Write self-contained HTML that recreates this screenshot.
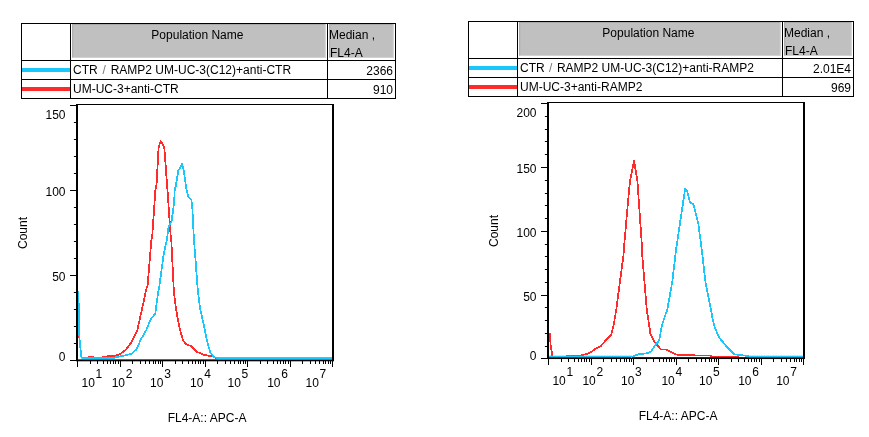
<!DOCTYPE html>
<html><head><meta charset="utf-8"><title>Histograms</title>
<style>
html,body{margin:0;padding:0;background:#fff;}
svg{display:block;}
text{font-family:"Liberation Sans", Arial, sans-serif;font-size:12px;fill:#000;}
</style></head>
<body>
<svg width="869" height="437" viewBox="0 0 869 437">
<rect width="869" height="437" fill="#fff"/>
<rect x="72.2" y="24" width="253.4" height="33.8" fill="#c0c0c0"/>
<rect x="72.2" y="24" width="253.4" height="1" fill="#a9a9a9"/>
<rect x="72.2" y="24" width="1" height="33.8" fill="#a9a9a9"/>
<rect x="72.2" y="57.0" width="253.4" height="0.8" fill="#d4d4d4"/>
<rect x="324.8" y="24" width="0.8" height="33.8" fill="#d4d4d4"/>
<rect x="329.2" y="24" width="64.4" height="33.8" fill="#c0c0c0"/>
<rect x="329.2" y="24" width="64.4" height="1" fill="#a9a9a9"/>
<rect x="329.2" y="24" width="1" height="33.8" fill="#a9a9a9"/>
<rect x="329.2" y="57.0" width="64.4" height="0.8" fill="#d4d4d4"/>
<rect x="392.8" y="24" width="0.8" height="33.8" fill="#d4d4d4"/>
<rect x="21" y="23" width="375" height="1" fill="#000"/>
<rect x="21" y="60" width="375" height="1" fill="#000"/>
<rect x="21" y="79" width="375" height="1" fill="#000"/>
<rect x="21" y="98" width="375" height="1" fill="#000"/>
<rect x="21" y="23" width="1" height="76" fill="#000"/>
<rect x="70" y="23" width="1" height="76" fill="#000"/>
<rect x="327" y="23" width="1" height="76" fill="#000"/>
<rect x="395" y="23" width="1" height="76" fill="#000"/>
<rect x="22" y="68" width="48" height="4" fill="#19C7FA"/>
<rect x="22" y="87" width="48" height="4" fill="#FF2B2B"/>
<text x="197.4" y="39" text-anchor="middle">Population Name</text>
<text x="329" y="39">Median ,</text>
<text x="330" y="57.2">FL4-A</text>
<text x="73" y="74">CTR<tspan dx="1.5" fill="#777"> /</tspan><tspan dx="1.5"> </tspan>RAMP2 UM-UC-3(C12)+anti-CTR</text>
<text x="73" y="93">UM-UC-3+anti-CTR</text>
<text x="393" y="75" text-anchor="end">2366</text>
<text x="393" y="94" text-anchor="end">910</text>
<rect x="519.2" y="22" width="261.4" height="33.8" fill="#c0c0c0"/>
<rect x="519.2" y="22" width="261.4" height="1" fill="#a9a9a9"/>
<rect x="519.2" y="22" width="1" height="33.8" fill="#a9a9a9"/>
<rect x="519.2" y="55.0" width="261.4" height="0.8" fill="#d4d4d4"/>
<rect x="779.8" y="22" width="0.8" height="33.8" fill="#d4d4d4"/>
<rect x="784.2" y="22" width="67.4" height="33.8" fill="#c0c0c0"/>
<rect x="784.2" y="22" width="67.4" height="1" fill="#a9a9a9"/>
<rect x="784.2" y="22" width="1" height="33.8" fill="#a9a9a9"/>
<rect x="784.2" y="55.0" width="67.4" height="0.8" fill="#d4d4d4"/>
<rect x="850.8" y="22" width="0.8" height="33.8" fill="#d4d4d4"/>
<rect x="468" y="21" width="386" height="1" fill="#000"/>
<rect x="468" y="58" width="386" height="1" fill="#000"/>
<rect x="468" y="77" width="386" height="1" fill="#000"/>
<rect x="468" y="96" width="386" height="1" fill="#000"/>
<rect x="468" y="21" width="1" height="76" fill="#000"/>
<rect x="517" y="21" width="1" height="76" fill="#000"/>
<rect x="782" y="21" width="1" height="76" fill="#000"/>
<rect x="853" y="21" width="1" height="76" fill="#000"/>
<rect x="469" y="66" width="48" height="4" fill="#19C7FA"/>
<rect x="469" y="85" width="48" height="4" fill="#FF2B2B"/>
<text x="648.4" y="37" text-anchor="middle">Population Name</text>
<text x="784" y="37">Median ,</text>
<text x="785" y="55.2">FL4-A</text>
<text x="520" y="72">CTR<tspan dx="1.1" fill="#777"> /</tspan><tspan dx="1.1"> </tspan>RAMP2 UM-UC-3(C12)+anti-RAMP2</text>
<text x="520" y="91">UM-UC-3+anti-RAMP2</text>
<text x="851" y="73" text-anchor="end">2.01E4</text>
<text x="851" y="92" text-anchor="end">969</text>
<rect x="76" y="104" width="2" height="257" fill="#000"/>
<rect x="332" y="104" width="2" height="257" fill="#000"/>
<rect x="76" y="104" width="258" height="1" fill="#000"/>
<rect x="76" y="359.4" width="258" height="1.9" fill="#000"/>
<polyline points="78.4,325.0 78.5,336.0 79.4,338.0 80.0,345.0 81.5,357.5 88.0,357.6 89.0,357.0 93.0,357.0 94.0,357.6 102.0,357.6 103.0,356.5 112.0,356.2 119.6,354.5 125.9,349.7 132.0,341.4 132.2,340.3 137.4,329.9 140.7,314.9 144.1,300.0 146.0,290.0 147.6,285.0 149.7,260.3 151.4,240.0 152.3,235.0 155.4,190.0 156.5,185.0 158.6,147.7 160.5,141.3 162.5,143.5 164.3,147.7 167.1,185.0 167.5,190.0 170.6,235.0 171.3,240.0 173.8,290.0 174.8,300.0 177.0,314.9 180.0,329.9 183.0,340.3 186.0,344.1 189.8,345.6 191.0,346.2 196.6,351.7 204.0,355.0 213.0,356.3 216.0,357.8" fill="none" stroke="#FF2B2B" stroke-width="1.75" stroke-linejoin="round" shape-rendering="crispEdges"/>
<polyline points="78.5,290.6 79.0,330.0 80.0,345.0 81.5,357.5 100.0,357.8 114.5,357.5 125.0,355.5 131.5,353.8 135.9,350.0 138.3,345.5 140.4,340.3 146.4,329.9 150.1,320.2 155.3,313.4 157.1,300.0 158.6,290.0 159.5,285.0 163.7,254.0 166.8,240.0 167.5,235.0 168.7,226.1 171.6,221.7 174.2,201.5 174.7,190.0 176.0,185.0 178.2,171.0 180.0,168.0 182.0,163.5 184.0,172.0 185.8,185.0 186.5,190.0 188.4,197.0 191.5,200.2 192.4,209.0 193.7,235.0 194.0,240.0 197.8,290.0 199.9,307.4 203.2,322.4 207.6,343.4 210.4,352.6 214.0,357.2 218.5,358.2" fill="none" stroke="#19C7FA" stroke-width="1.75" stroke-linejoin="round" shape-rendering="crispEdges"/>
<rect x="217.5" y="357.1" width="114.5" height="2.2" fill="#19C7FA"/>
<rect x="81.5" y="357.05" width="33.5" height="1.9" fill="#19C7FA"/>
<rect x="70" y="360" width="6" height="1" fill="#000"/>
<rect x="73.9" y="343" width="2.1" height="1" fill="#000"/>
<rect x="73.9" y="326" width="2.1" height="1" fill="#000"/>
<rect x="73.9" y="309" width="2.1" height="1" fill="#000"/>
<rect x="73.9" y="292" width="2.1" height="1" fill="#000"/>
<rect x="70" y="275" width="6" height="1" fill="#000"/>
<rect x="73.9" y="258" width="2.1" height="1" fill="#000"/>
<rect x="73.9" y="241" width="2.1" height="1" fill="#000"/>
<rect x="73.9" y="224" width="2.1" height="1" fill="#000"/>
<rect x="73.9" y="207" width="2.1" height="1" fill="#000"/>
<rect x="70" y="190" width="6" height="1" fill="#000"/>
<rect x="73.9" y="173" width="2.1" height="1" fill="#000"/>
<rect x="73.9" y="156" width="2.1" height="1" fill="#000"/>
<rect x="73.9" y="139" width="2.1" height="1" fill="#000"/>
<rect x="73.9" y="122" width="2.1" height="1" fill="#000"/>
<rect x="70" y="105" width="6" height="1" fill="#000"/>
<text x="65.5" y="119" text-anchor="end">150</text>
<text x="65.5" y="195.5" text-anchor="end">100</text>
<text x="65.5" y="281" text-anchor="end">50</text>
<text x="65.5" y="361.3" text-anchor="end">0</text>
<rect x="77" y="361" width="1" height="6" fill="#000"/>
<rect x="90" y="361" width="1" height="3" fill="#000"/>
<rect x="97" y="361" width="1" height="3" fill="#000"/>
<rect x="103" y="361" width="1" height="3" fill="#000"/>
<rect x="107" y="361" width="1" height="3" fill="#000"/>
<rect x="110" y="361" width="1" height="3" fill="#000"/>
<rect x="113" y="361" width="1" height="3" fill="#000"/>
<rect x="115" y="361" width="1" height="3" fill="#000"/>
<rect x="118" y="361" width="1" height="3" fill="#000"/>
<rect x="120" y="361" width="1" height="6" fill="#000"/>
<rect x="132" y="361" width="1" height="3" fill="#000"/>
<rect x="140" y="361" width="1" height="3" fill="#000"/>
<rect x="145" y="361" width="1" height="3" fill="#000"/>
<rect x="149" y="361" width="1" height="3" fill="#000"/>
<rect x="153" y="361" width="1" height="3" fill="#000"/>
<rect x="155" y="361" width="1" height="3" fill="#000"/>
<rect x="158" y="361" width="1" height="3" fill="#000"/>
<rect x="160" y="361" width="1" height="3" fill="#000"/>
<rect x="162" y="361" width="1" height="6" fill="#000"/>
<rect x="175" y="361" width="1" height="3" fill="#000"/>
<rect x="182" y="361" width="1" height="3" fill="#000"/>
<rect x="188" y="361" width="1" height="3" fill="#000"/>
<rect x="192" y="361" width="1" height="3" fill="#000"/>
<rect x="195" y="361" width="1" height="3" fill="#000"/>
<rect x="198" y="361" width="1" height="3" fill="#000"/>
<rect x="200" y="361" width="1" height="3" fill="#000"/>
<rect x="203" y="361" width="1" height="3" fill="#000"/>
<rect x="205" y="361" width="1" height="6" fill="#000"/>
<rect x="217" y="361" width="1" height="3" fill="#000"/>
<rect x="225" y="361" width="1" height="3" fill="#000"/>
<rect x="230" y="361" width="1" height="3" fill="#000"/>
<rect x="234" y="361" width="1" height="3" fill="#000"/>
<rect x="238" y="361" width="1" height="3" fill="#000"/>
<rect x="240" y="361" width="1" height="3" fill="#000"/>
<rect x="243" y="361" width="1" height="3" fill="#000"/>
<rect x="245" y="361" width="1" height="3" fill="#000"/>
<rect x="247" y="361" width="1" height="6" fill="#000"/>
<rect x="260" y="361" width="1" height="3" fill="#000"/>
<rect x="267" y="361" width="1" height="3" fill="#000"/>
<rect x="273" y="361" width="1" height="3" fill="#000"/>
<rect x="277" y="361" width="1" height="3" fill="#000"/>
<rect x="280" y="361" width="1" height="3" fill="#000"/>
<rect x="283" y="361" width="1" height="3" fill="#000"/>
<rect x="285" y="361" width="1" height="3" fill="#000"/>
<rect x="288" y="361" width="1" height="3" fill="#000"/>
<rect x="290" y="361" width="1" height="6" fill="#000"/>
<rect x="302" y="361" width="1" height="3" fill="#000"/>
<rect x="310" y="361" width="1" height="3" fill="#000"/>
<rect x="315" y="361" width="1" height="3" fill="#000"/>
<rect x="319" y="361" width="1" height="3" fill="#000"/>
<rect x="323" y="361" width="1" height="3" fill="#000"/>
<rect x="325" y="361" width="1" height="3" fill="#000"/>
<rect x="328" y="361" width="1" height="3" fill="#000"/>
<rect x="330" y="361" width="1" height="3" fill="#000"/>
<rect x="332" y="361" width="1" height="6" fill="#000"/>
<text x="81.5" y="386.7">10</text>
<text x="95.6" y="378" font-size="9.7">1</text>
<text x="111.7" y="386.7">10</text>
<text x="125.8" y="378" font-size="9.7">2</text>
<text x="150.1" y="386.7">10</text>
<text x="164.2" y="378" font-size="9.7">3</text>
<text x="190.1" y="386.7">10</text>
<text x="204.2" y="378" font-size="9.7">4</text>
<text x="227.5" y="386.7">10</text>
<text x="241.6" y="378" font-size="9.7">5</text>
<text x="267.2" y="386.7">10</text>
<text x="281.3" y="378" font-size="9.7">6</text>
<text x="305.5" y="386.7">10</text>
<text x="319.6" y="378" font-size="9.7">7</text>
<text x="167.7" y="422">FL4-A:: APC-A</text>
<text transform="translate(27.3,249) rotate(-90)">Count</text>
<rect x="547" y="102" width="2" height="257" fill="#000"/>
<rect x="803" y="102" width="2" height="257" fill="#000"/>
<rect x="547" y="102" width="258" height="1" fill="#000"/>
<rect x="547" y="357.15" width="258" height="1.9" fill="#000"/>
<polyline points="549.8,333.4 550.6,345.0 552.4,355.8 553.0,356.4 566.0,356.4 567.0,355.6 580.0,355.5 584.5,354.6 589.5,353.0 593.5,350.2 595.5,348.7 600.6,346.3 606.2,339.8 611.0,335.0 613.5,326.1 614.5,320.0 616.2,310.0 623.5,255.0 623.8,250.0 627.7,205.0 628.2,200.0 629.9,181.6 634.0,160.8 637.5,181.6 638.7,200.0 639.1,205.0 642.2,250.0 642.2,255.0 646.8,310.0 648.1,318.0 650.5,334.2 654.6,342.2 661.0,349.5 665.8,349.5 672.3,352.7 677.1,354.8 694.2,354.8 695.0,355.6 710.3,355.6 712.0,356.4 738.5,356.4" fill="none" stroke="#FF2B2B" stroke-width="1.75" stroke-linejoin="round" shape-rendering="crispEdges"/>
<polyline points="631.0,356.7 632.8,356.4 638.4,354.3 648.1,353.2 651.3,351.1 656.2,343.8 659.1,340.6 661.8,326.1 663.6,320.0 667.3,309.6 672.2,282.2 676.0,250.0 682.7,205.0 683.4,200.0 685.2,188.6 687.0,190.5 690.0,202.5 693.2,203.8 698.2,222.8 701.8,250.0 705.5,282.2 711.1,310.0 712.8,320.0 714.8,327.7 719.1,337.4 725.6,345.4 734.4,354.3 745.0,355.6 750.0,356.6" fill="none" stroke="#19C7FA" stroke-width="1.75" stroke-linejoin="round" shape-rendering="crispEdges"/>
<rect x="549" y="355.7" width="83" height="1.5" fill="#19C7FA"/>
<rect x="749" y="355.7" width="54" height="1.6" fill="#19C7FA"/>
<rect x="541" y="358" width="6" height="1" fill="#000"/>
<rect x="544.9" y="346" width="2.1" height="1" fill="#000"/>
<rect x="544.9" y="333" width="2.1" height="1" fill="#000"/>
<rect x="544.9" y="320" width="2.1" height="1" fill="#000"/>
<rect x="544.9" y="307" width="2.1" height="1" fill="#000"/>
<rect x="541" y="295" width="6" height="1" fill="#000"/>
<rect x="544.9" y="282" width="2.1" height="1" fill="#000"/>
<rect x="544.9" y="269" width="2.1" height="1" fill="#000"/>
<rect x="544.9" y="256" width="2.1" height="1" fill="#000"/>
<rect x="544.9" y="244" width="2.1" height="1" fill="#000"/>
<rect x="541" y="231" width="6" height="1" fill="#000"/>
<rect x="544.9" y="218" width="2.1" height="1" fill="#000"/>
<rect x="544.9" y="205" width="2.1" height="1" fill="#000"/>
<rect x="544.9" y="193" width="2.1" height="1" fill="#000"/>
<rect x="544.9" y="180" width="2.1" height="1" fill="#000"/>
<rect x="541" y="167" width="6" height="1" fill="#000"/>
<rect x="544.9" y="154" width="2.1" height="1" fill="#000"/>
<rect x="544.9" y="141" width="2.1" height="1" fill="#000"/>
<rect x="544.9" y="129" width="2.1" height="1" fill="#000"/>
<rect x="544.9" y="116" width="2.1" height="1" fill="#000"/>
<rect x="541" y="103" width="6" height="1" fill="#000"/>
<text x="536.5" y="117" text-anchor="end">200</text>
<text x="536.5" y="173.1" text-anchor="end">150</text>
<text x="536.5" y="237.1" text-anchor="end">100</text>
<text x="536.5" y="301.3" text-anchor="end">50</text>
<text x="536.5" y="359.8" text-anchor="end">0</text>
<rect x="548" y="359" width="1" height="6" fill="#000"/>
<rect x="561" y="359" width="1" height="3" fill="#000"/>
<rect x="568" y="359" width="1" height="3" fill="#000"/>
<rect x="574" y="359" width="1" height="3" fill="#000"/>
<rect x="578" y="359" width="1" height="3" fill="#000"/>
<rect x="581" y="359" width="1" height="3" fill="#000"/>
<rect x="584" y="359" width="1" height="3" fill="#000"/>
<rect x="586" y="359" width="1" height="3" fill="#000"/>
<rect x="589" y="359" width="1" height="3" fill="#000"/>
<rect x="591" y="359" width="1" height="6" fill="#000"/>
<rect x="603" y="359" width="1" height="3" fill="#000"/>
<rect x="611" y="359" width="1" height="3" fill="#000"/>
<rect x="616" y="359" width="1" height="3" fill="#000"/>
<rect x="620" y="359" width="1" height="3" fill="#000"/>
<rect x="624" y="359" width="1" height="3" fill="#000"/>
<rect x="626" y="359" width="1" height="3" fill="#000"/>
<rect x="629" y="359" width="1" height="3" fill="#000"/>
<rect x="631" y="359" width="1" height="3" fill="#000"/>
<rect x="633" y="359" width="1" height="6" fill="#000"/>
<rect x="646" y="359" width="1" height="3" fill="#000"/>
<rect x="653" y="359" width="1" height="3" fill="#000"/>
<rect x="659" y="359" width="1" height="3" fill="#000"/>
<rect x="663" y="359" width="1" height="3" fill="#000"/>
<rect x="666" y="359" width="1" height="3" fill="#000"/>
<rect x="669" y="359" width="1" height="3" fill="#000"/>
<rect x="671" y="359" width="1" height="3" fill="#000"/>
<rect x="674" y="359" width="1" height="3" fill="#000"/>
<rect x="676" y="359" width="1" height="6" fill="#000"/>
<rect x="688" y="359" width="1" height="3" fill="#000"/>
<rect x="696" y="359" width="1" height="3" fill="#000"/>
<rect x="701" y="359" width="1" height="3" fill="#000"/>
<rect x="705" y="359" width="1" height="3" fill="#000"/>
<rect x="709" y="359" width="1" height="3" fill="#000"/>
<rect x="711" y="359" width="1" height="3" fill="#000"/>
<rect x="714" y="359" width="1" height="3" fill="#000"/>
<rect x="716" y="359" width="1" height="3" fill="#000"/>
<rect x="718" y="359" width="1" height="6" fill="#000"/>
<rect x="731" y="359" width="1" height="3" fill="#000"/>
<rect x="738" y="359" width="1" height="3" fill="#000"/>
<rect x="744" y="359" width="1" height="3" fill="#000"/>
<rect x="748" y="359" width="1" height="3" fill="#000"/>
<rect x="751" y="359" width="1" height="3" fill="#000"/>
<rect x="754" y="359" width="1" height="3" fill="#000"/>
<rect x="756" y="359" width="1" height="3" fill="#000"/>
<rect x="759" y="359" width="1" height="3" fill="#000"/>
<rect x="761" y="359" width="1" height="6" fill="#000"/>
<rect x="773" y="359" width="1" height="3" fill="#000"/>
<rect x="781" y="359" width="1" height="3" fill="#000"/>
<rect x="786" y="359" width="1" height="3" fill="#000"/>
<rect x="790" y="359" width="1" height="3" fill="#000"/>
<rect x="794" y="359" width="1" height="3" fill="#000"/>
<rect x="796" y="359" width="1" height="3" fill="#000"/>
<rect x="799" y="359" width="1" height="3" fill="#000"/>
<rect x="801" y="359" width="1" height="3" fill="#000"/>
<rect x="803" y="359" width="1" height="6" fill="#000"/>
<text x="552.4" y="384.7">10</text>
<text x="566.5" y="376" font-size="9.7">1</text>
<text x="582.4" y="384.7">10</text>
<text x="596.5" y="376" font-size="9.7">2</text>
<text x="621" y="384.7">10</text>
<text x="635.1" y="376" font-size="9.7">3</text>
<text x="661.4" y="384.7">10</text>
<text x="675.5" y="376" font-size="9.7">4</text>
<text x="699" y="384.7">10</text>
<text x="713.1" y="376" font-size="9.7">5</text>
<text x="738.2" y="384.7">10</text>
<text x="752.3000000000001" y="376" font-size="9.7">6</text>
<text x="776.2" y="384.7">10</text>
<text x="790.3000000000001" y="376" font-size="9.7">7</text>
<text x="638.7" y="420">FL4-A:: APC-A</text>
<text transform="translate(497.8,247) rotate(-90)">Count</text>
</svg>
</body></html>
